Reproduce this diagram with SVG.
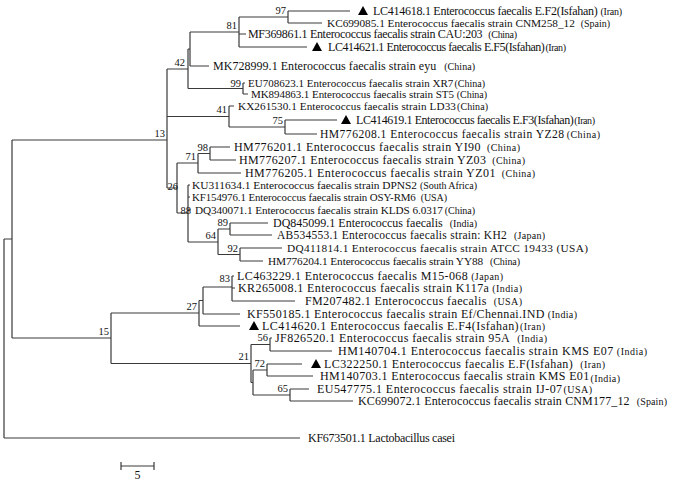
<svg xmlns="http://www.w3.org/2000/svg" width="685" height="484" viewBox="0 0 685 484">
<style>
.e{fill:none;stroke:#3a3a3a;stroke-width:1.2}
text{font-family:"Liberation Serif","Times New Roman",serif;fill:#111}
.n{font-size:12px}
.c{font-size:10px}
.b{font-size:10.5px;text-anchor:end}
</style>
<defs><path id="tri" d="M0,-5 L5,4 L-5,4 Z"/></defs>
<rect width="685" height="484" fill="#fff"/>
<g id="connectors" class="e">
<path d="M288,11V23M239,17H288M288,11H350M288,23H322"/>
<path d="M239,17V47M190,32H239M239,34H246M239,47H307"/>
<path d="M190,32V66M190,66H209"/>
<path d="M243,83V94M243,83H245M243,94H248"/>
<path d="M188,49V88.5M188,49H190M188,88.5H243M167,69H188"/>
<path d="M229,106V127M229,106H234M167,116.5H229M229,127H285M285,120V134M285,120H337M285,134H317"/>
<path d="M210,147V160M210,147H230M210,160H236M198,153.5V173M198,153.5H210M198,173H241M177,163H198"/>
<path d="M230,223V235M230,223H268M230,235H272M240,248V261M240,248H282M240,261H263M218,229V254.5M218,229H230M218,254.5H240M188,242H218"/>
<path d="M188,185V242M188,185H190M188,197H190M188,210H191M177,213H188M177,163V213M167,188H177"/>
<path d="M167,69V188M12,140H167"/>
<path d="M232,276V301M232,276H234M232,288H235M232,301H295M203,287H232M203,287V314M203,314H240M199,300.5V326M199,300.5H203M199,326H240M111,313H199"/>
<path d="M270,338V351M270,338H272M270,351H332M251,344.5H270M251,344.5V382.5"/>
<path d="M267,364V376M267,364H302M267,376H313M253,370H267M253,370V395M253,395H290M290,389V401M290,389H309M290,401H353M251,382.5H253"/>
<path d="M111,313V363.5M111,363.5H251M12,338H111M12,140V338M4,239H12M4,239V438M4,438H300"/>
<path d="M121,466H154M121,462V470M154,462V470"/>
</g>
<g id="bootstrap">
<text class="b" x="286" y="14">97</text>
<text class="b" x="237" y="29">81</text>
<text class="b" x="185" y="66">42</text>
<text class="b" x="241" y="87">99</text>
<text class="b" x="227" y="113">41</text>
<text class="b" x="283" y="124">75</text>
<text class="b" x="165" y="137">13</text>
<text class="b" x="208" y="151">98</text>
<text class="b" x="196" y="160">71</text>
<text class="b" x="178" y="190">26</text>
<text class="b" x="191" y="214">88</text>
<text class="b" x="228" y="226">89</text>
<text class="b" x="216" y="239">64</text>
<text class="b" x="238" y="252">92</text>
<text class="b" x="230" y="282">83</text>
<text class="b" x="197" y="310">27</text>
<text class="b" x="268" y="341">56</text>
<text class="b" x="249" y="360">21</text>
<text class="b" x="265" y="367">72</text>
<text class="b" x="288" y="392">65</text>
<text class="b" x="109" y="335">15</text>
</g>
<g id="leaf-LC414618"><use href="#tri" x="363" y="11"/><text class="n" x="373" y="15" textLength="249" lengthAdjust="spacing">LC414618.1 Enterococcus faecalis E.F2(Isfahan)<tspan class="c" dx="3">(Iran)</tspan></text></g>
<g id="leaf-KC699085"><text class="n" x="327" y="27" style="font-size:11.3px" textLength="283" lengthAdjust="spacing">KC699085.1 Enterococcus faecalis strain CNM258_12<tspan class="c" dx="6">(Spain)</tspan></text></g>
<g id="leaf-MF369861"><text class="n" x="248" y="38" textLength="269" lengthAdjust="spacing">MF369861.1 Enterococcus faecalis strain CAU:203<tspan class="c" dx="6">(China)</tspan></text></g>
<g id="leaf-LC414621"><use href="#tri" x="317" y="47"/><text class="n" x="328" y="51" textLength="238" lengthAdjust="spacing">LC414621.1 Enterococcus faecalis E.F5(Isfahan)<tspan class="c" dx="1">(Iran)</tspan></text></g>
<g id="leaf-MK728999"><text class="n" x="213" y="70" textLength="262" lengthAdjust="spacing">MK728999.1 Enterococcus faecalis strain eyu<tspan class="c" dx="8">(China)</tspan></text></g>
<g id="leaf-EU708623"><text class="n" x="248" y="87" style="font-size:11px" textLength="237" lengthAdjust="spacing">EU708623.1 Enterococcus faecalis strain XR7<tspan class="c" dx="1">(China)</tspan></text></g>
<g id="leaf-MK894863"><text class="n" x="251" y="98" style="font-size:11px" textLength="236" lengthAdjust="spacing">MK894863.1 Enterococcus faecalis strain ST5<tspan class="c" dx="3">(China)</tspan></text></g>
<g id="leaf-KX261530"><text class="n" x="238" y="110" style="font-size:11.2px" textLength="250" lengthAdjust="spacing">KX261530.1 Enterococcus faecalis strain LD33<tspan class="c" dx="1">(China)</tspan></text></g>
<g id="leaf-LC414619"><use href="#tri" x="346" y="120"/><text class="n" x="356" y="124" textLength="239" lengthAdjust="spacing">LC414619.1 Enterococcus faecalis E.F3(Isfahan)<tspan class="c" dx="1">(Iran)</tspan></text></g>
<g id="leaf-HM776208"><text class="n" x="320" y="138" style="font-size:11.6px" textLength="280" lengthAdjust="spacing">HM776208.1 Enterococcus faecalis strain YZ28<tspan class="c" dx="2">(China)</tspan></text></g>
<g id="leaf-HM776201"><text class="n" x="234" y="151" textLength="286" lengthAdjust="spacing">HM776201.1 Enterococcus faecalis strain YI90<tspan class="c" dx="6">(China)</tspan></text></g>
<g id="leaf-HM776207"><text class="n" x="239" y="164" textLength="286" lengthAdjust="spacing">HM776207.1 Enterococcus faecalis strain YZ03<tspan class="c" dx="6">(China)</tspan></text></g>
<g id="leaf-HM776205"><text class="n" x="245" y="177" textLength="290" lengthAdjust="spacing">HM776205.1 Enterococcus faecalis strain YZ01<tspan class="c" dx="6">(China)</tspan></text></g>
<g id="leaf-KU311634"><text class="n" x="192" y="189" style="font-size:11.4px" textLength="285" lengthAdjust="spacing">KU311634.1 Enterococcus faecalis strain DPNS2<tspan class="c" dx="3">(South Africa)</tspan></text></g>
<g id="leaf-KF154976"><text class="n" x="192" y="201" style="font-size:10.9px" textLength="255" lengthAdjust="spacing">KF154976.1 Enterococcus faecalis strain OSY-RM6<tspan class="c" dx="5">(USA)</tspan></text></g>
<g id="leaf-DQ340071"><text class="n" x="195" y="214" style="font-size:11.2px" textLength="280" lengthAdjust="spacing">DQ340071.1 Enterococcus faecalis strain KLDS 6.0317<tspan class="c" dx="2">(China)</tspan></text></g>
<g id="leaf-DQ845099"><text class="n" x="273" y="227" textLength="204" lengthAdjust="spacing">DQ845099.1 Enterococcus faecalis<tspan class="c" dx="7">(India)</tspan></text></g>
<g id="leaf-AB534553"><text class="n" x="277" y="239" style="font-size:11.5px" textLength="268" lengthAdjust="spacing">AB534553.1 Enterococcus faecalis strain: KH2<tspan class="c" dx="7">(Japan)</tspan></text></g>
<g id="leaf-DQ411814"><text class="n" x="287" y="252" style="font-size:11.3px" textLength="301" lengthAdjust="spacing">DQ411814.1 Enterococcus faecalis strain ATCC 19433 (USA)</text></g>
<g id="leaf-HM776204"><text class="n" x="268" y="265" style="font-size:11.3px" textLength="252" lengthAdjust="spacing">HM776204.1 Enterococcus faecalis strain YY88<tspan class="c" dx="7">(China)</tspan></text></g>
<g id="leaf-LC463229"><text class="n" x="237" y="280" textLength="266" lengthAdjust="spacing">LC463229.1 Enterococcus faecalis M15-068<tspan class="c" dx="3">(Japan)</tspan></text></g>
<g id="leaf-KR265008"><text class="n" x="238" y="292" textLength="284" lengthAdjust="spacing">KR265008.1 Enterococcus faecalis strain K117a<tspan class="c" dx="3">(India)</tspan></text></g>
<g id="leaf-FM207482"><text class="n" x="305" y="305" textLength="217" lengthAdjust="spacing">FM207482.1 Enterococcus faecalis<tspan class="c" dx="7">(USA)</tspan></text></g>
<g id="leaf-KF550185"><text class="n" x="247" y="318" textLength="330" lengthAdjust="spacing">KF550185.1 Enterococcus faecalis strain Ef/Chennai.IND<tspan class="c" dx="3">(India)</tspan></text></g>
<g id="leaf-LC414620"><use href="#tri" x="254" y="326"/><text class="n" x="262" y="330" textLength="283" lengthAdjust="spacing">LC414620.1 Enterococcus faecalis E.F4(Isfahan)<tspan class="c" dx="1">(Iran)</tspan></text></g>
<g id="leaf-JF826520"><text class="n" x="275" y="342" textLength="272" lengthAdjust="spacing">JF826520.1 Enterococcus faecalis strain 95A<tspan class="c" dx="7">(India)</tspan></text></g>
<g id="leaf-HM140704"><text class="n" x="338" y="355" textLength="309" lengthAdjust="spacing">HM140704.1 Enterococcus faecalis strain KMS E07<tspan class="c" dx="3">(India)</tspan></text></g>
<g id="leaf-LC322250"><use href="#tri" x="316" y="364"/><text class="n" x="324" y="368" textLength="281" lengthAdjust="spacing">LC322250.1 Enterococcus faecalis E.F(Isfahan)<tspan class="c" dx="7">(Iran)</tspan></text></g>
<g id="leaf-HM140703"><text class="n" x="320" y="380" textLength="300" lengthAdjust="spacing">HM140703.1 Enterococcus faecalis strain KMS E01<tspan class="c" dx="1" dy="2">(India)</tspan></text></g>
<g id="leaf-EU547775"><text class="n" x="317" y="393" textLength="275" lengthAdjust="spacing">EU547775.1 Enterococcus faecalis strain IJ-07<tspan class="c" dx="1">(USA)</tspan></text></g>
<g id="leaf-KC699072"><text class="n" x="358" y="405" textLength="309" lengthAdjust="spacing">KC699072.1 Enterococcus faecalis strain CNM177_12<tspan class="c" dx="7">(Spain)</tspan></text></g>
<g id="leaf-KF673501"><text class="n" x="308" y="442" textLength="147" lengthAdjust="spacing">KF673501.1 Lactobacillus casei</text></g>
<g id="scale"><text class="n" x="137.5" y="479" text-anchor="middle">5</text></g>
</svg>
